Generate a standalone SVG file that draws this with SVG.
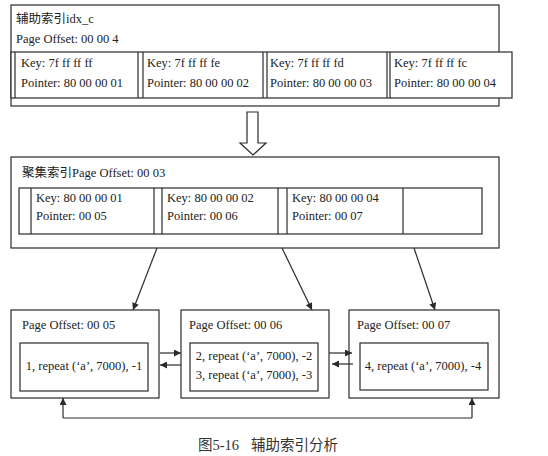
<svg xmlns="http://www.w3.org/2000/svg" width="548" height="456" viewBox="0 0 548 456">
<defs>
<style>
.box{fill:#fff;stroke:#2a2a2a;stroke-width:1.2}
.ln{fill:none;stroke:#2a2a2a;stroke-width:1.2}
.t{font-family:"Liberation Serif","Noto Sans CJK SC",serif;font-size:12.5px;fill:#222}
.cap{font-family:"Liberation Serif","Noto Sans CJK SC",serif;font-size:14.5px;fill:#333}
</style>
<marker id="ah" viewBox="0 0 10 10" refX="10" refY="5" markerWidth="9" markerHeight="7" markerUnits="userSpaceOnUse" orient="auto">
<path d="M0,0 L10,5 L0,10 z" fill="#2a2a2a"/>
</marker>
</defs>
<rect width="548" height="456" fill="#fff"/>

<g id="secondary-index">
<rect class="box" x="11" y="5" width="488" height="101"/>
<text class="t" x="16" y="23">辅助索引idx_c</text>
<text class="t" x="16" y="43">Page Offset: 00 00 4</text>
<rect class="box" x="11" y="52" width="501" height="46"/>
<line class="ln" x1="15" y1="52" x2="15" y2="98"/>
<line class="ln" x1="138" y1="52" x2="138" y2="98"/>
<line class="ln" x1="143" y1="52" x2="143" y2="98"/>
<line class="ln" x1="263" y1="52" x2="263" y2="98"/>
<line class="ln" x1="267" y1="52" x2="267" y2="98"/>
<line class="ln" x1="387" y1="52" x2="387" y2="98"/>
<line class="ln" x1="390" y1="52" x2="390" y2="98"/>
<text class="t" x="21" y="67">Key: 7f ff ff ff</text>
<text class="t" x="21" y="87">Pointer: 80 00 00 01</text>
<text class="t" x="147" y="67">Key: 7f ff ff fe</text>
<text class="t" x="147" y="87">Pointer: 80 00 00 02</text>
<text class="t" x="270" y="67">Key: 7f ff ff fd</text>
<text class="t" x="270" y="87">Pointer: 80 00 00 03</text>
<text class="t" x="394" y="67">Key: 7f ff ff fc</text>
<text class="t" x="394" y="87">Pointer: 80 00 00 04</text>
</g>

<g id="clustered-index">
<rect class="box" x="11" y="157" width="488" height="91"/>
<text class="t" x="22" y="177">聚集索引Page Offset: 00 03</text>
<rect class="box" x="19" y="188" width="463" height="46"/>
<line class="ln" x1="31" y1="188" x2="31" y2="234"/>
<line class="ln" x1="154" y1="188" x2="154" y2="234"/>
<line class="ln" x1="162" y1="188" x2="162" y2="234"/>
<line class="ln" x1="278" y1="188" x2="278" y2="234"/>
<line class="ln" x1="287" y1="188" x2="287" y2="234"/>
<line class="ln" x1="403" y1="188" x2="403" y2="234"/>
<text class="t" x="36" y="202">Key: 80 00 00 01</text>
<text class="t" x="36" y="220">Pointer: 00 05</text>
<text class="t" x="167" y="202">Key: 80 00 00 02</text>
<text class="t" x="167" y="220">Pointer: 00 06</text>
<text class="t" x="292" y="202">Key: 80 00 00 04</text>
<text class="t" x="292" y="220">Pointer: 00 07</text>
</g>

<g id="page-05">
<rect class="box" x="11" y="310" width="148" height="88"/>
<text class="t" x="22" y="329">Page Offset: 00 05</text>
<rect class="box" x="20" y="343" width="128" height="48"/>
<text class="t" x="84" y="370" text-anchor="middle">1, repeat (‘a’, 7000), -1</text>
</g>

<g id="page-06">
<rect class="box" x="181" y="310" width="148" height="88"/>
<text class="t" x="189" y="329">Page Offset: 00 06</text>
<rect class="box" x="190" y="343" width="128" height="48"/>
<text class="t" x="254" y="360" text-anchor="middle">2, repeat (‘a’, 7000), -2</text>
<text class="t" x="254" y="379" text-anchor="middle">3, repeat (‘a’, 7000), -3</text>
</g>

<g id="page-07">
<rect class="box" x="349" y="310" width="150" height="88"/>
<text class="t" x="357" y="329">Page Offset: 00 07</text>
<rect class="box" x="360" y="343" width="128" height="47"/>
<text class="t" x="423" y="370" text-anchor="middle">4, repeat (‘a’, 7000), -4</text>
</g>

<g id="connectors">
<path d="M247,112 L258,112 L258,143 L266,143 L253,155 L240,143 L247,143 Z" fill="#fff" stroke="#2a2a2a" stroke-width="1.2"/>
<line class="ln" x1="157" y1="248" x2="133" y2="310" marker-end="url(#ah)"/>
<line class="ln" x1="282" y1="248" x2="312" y2="310" marker-end="url(#ah)"/>
<line class="ln" x1="414" y1="248" x2="435" y2="310" marker-end="url(#ah)"/>
<line class="ln" x1="160" y1="353" x2="181" y2="353" marker-end="url(#ah)"/>
<line class="ln" x1="181" y1="365" x2="160" y2="365" marker-end="url(#ah)"/>
<line class="ln" x1="329" y1="353" x2="352" y2="353" marker-end="url(#ah)"/>
<line class="ln" x1="353" y1="364" x2="332" y2="364" marker-end="url(#ah)"/>
<polyline class="ln" points="63,418 472,418"/>
<line class="ln" x1="63" y1="418" x2="63" y2="398" marker-end="url(#ah)"/>
<line class="ln" x1="472" y1="418" x2="472" y2="398" marker-end="url(#ah)"/>
</g>

<g id="caption">
<text class="cap" x="198" y="450">图5-16</text>
<text class="cap" x="251" y="450">辅助索引分析</text>
</g>
</svg>
